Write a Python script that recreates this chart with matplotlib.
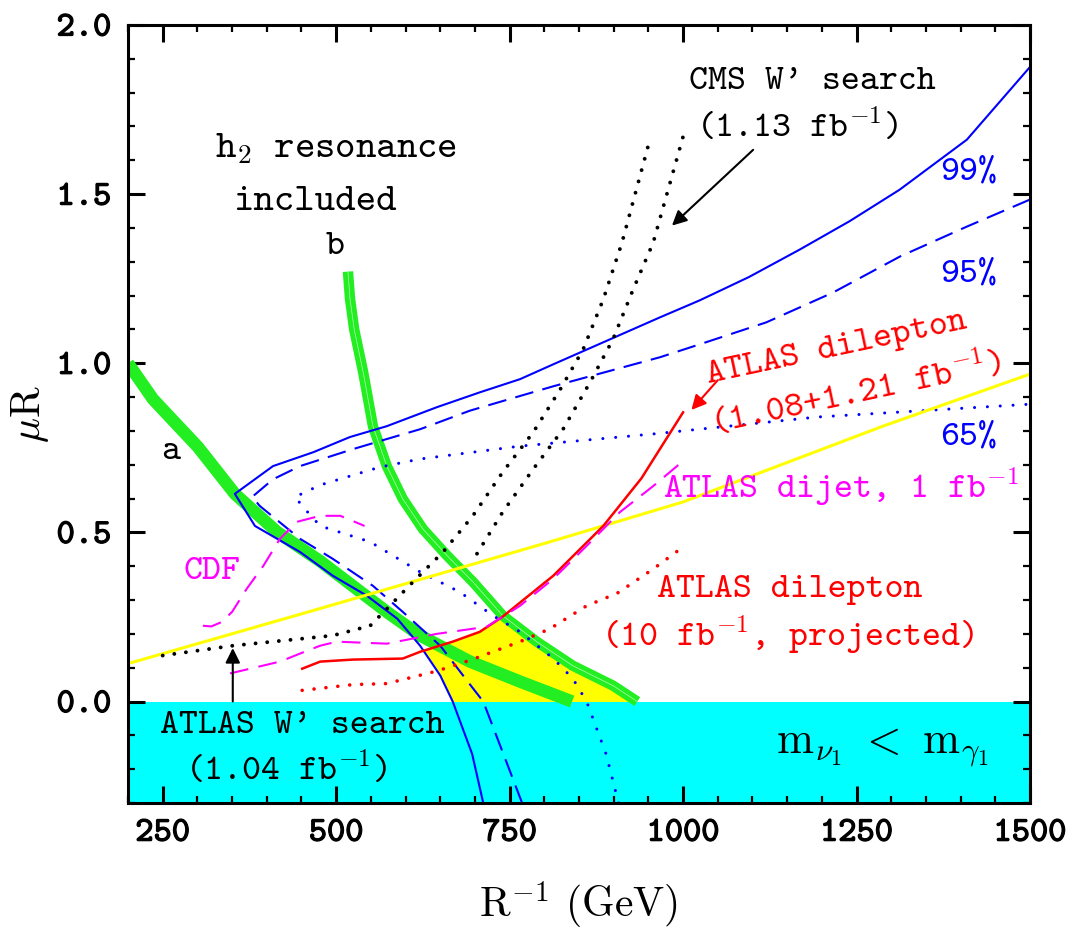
import numpy as np
import matplotlib
matplotlib.use('Agg')
import matplotlib.pyplot as plt
from matplotlib import patheffects as pe
from matplotlib.ticker import MultipleLocator

plt.rcParams['mathtext.fontset'] = 'cm'
plt.rcParams['font.family'] = ['cmtt10', 'DejaVu Sans']
plt.rcParams['axes.unicode_minus'] = False

# ---------------- data ----------------
xticks = [250, 500, 750, 1000, 1250, 1500]
xtick_labels = ['250', '500', '750', '1000', '1250', '1500']
yticks = [0.0, 0.5, 1.0, 1.5, 2.0]
ytick_labels = ['0.0', '0.5', '1.0', '1.5', '2.0']

# green band "a"
a_x = [200, 236, 301, 354, 415, 477, 573, 621, 693, 765, 840]
a_y = [1.0, 0.894, 0.752, 0.614, 0.501, 0.415, 0.265, 0.195, 0.118, 0.059, 0.0]
# green band "b"
b_x = [517, 520, 526, 539, 553, 573, 596, 625, 660, 697, 740, 789, 841, 899, 934]
b_y = [1.271, 1.19, 1.10, 0.973, 0.814, 0.696, 0.599, 0.510, 0.431, 0.354, 0.254, 0.177, 0.106, 0.047, 0.0]

# 99% (solid blue): lower and upper branches
s99_lo_x = [354, 383, 448, 495, 544, 588, 621, 650, 668, 696, 712]
s99_lo_y = [0.614, 0.519, 0.442, 0.372, 0.313, 0.245, 0.165, 0.077, 0.0, -0.155, -0.3]
s99_up_x = [354, 409, 467, 520, 573, 645, 707, 765, 813, 885, 967, 1024, 1095, 1168, 1240, 1312, 1409, 1500]
s99_up_y = [0.614, 0.696, 0.737, 0.782, 0.814, 0.870, 0.914, 0.953, 0.997, 1.062, 1.136, 1.186, 1.255,
            1.336, 1.42, 1.513, 1.661, 1.876]

# 95% (dashed blue)
d95_lo_x = [379, 390, 448, 495, 553, 596, 650, 693, 712, 741, 768]
d95_lo_y = [0.605, 0.578, 0.481, 0.422, 0.342, 0.265, 0.165, 0.05, 0.0, -0.155, -0.3]
d95_up_x = [379, 409, 448, 524, 573, 621, 693, 813, 967, 1024, 1120, 1216, 1313, 1409, 1500]
d95_up_y = [0.605, 0.657, 0.696, 0.746, 0.776, 0.805, 0.86, 0.932, 1.018, 1.056, 1.121, 1.209, 1.316,
            1.404, 1.484]

# 65% (dotted blue)
o65_lo_x = [441, 451, 477, 549, 621, 678, 726, 765, 813, 841, 861, 889, 907]
o65_lo_y = [0.605, 0.578, 0.519, 0.472, 0.383, 0.324, 0.254, 0.206, 0.127, 0.068, 0.0, -0.155, -0.3]
o65_up_x = [441, 477, 563, 621, 765, 957, 1193, 1500]
o65_up_y = [0.605, 0.64, 0.693, 0.717, 0.755, 0.791, 0.841, 0.879]

# yellow line
yel_x = [200, 477, 808, 1000, 1288, 1500]
yel_y = [0.112, 0.275, 0.472, 0.59, 0.814, 0.968]

# ATLAS W' search (black dotted)
atw_x = [250, 351, 495, 549, 573, 611, 654, 697, 740, 784, 823, 856, 885, 912, 950]
atw_y = [0.136, 0.165, 0.195, 0.224, 0.274, 0.354, 0.442, 0.549, 0.678, 0.796, 0.923, 1.041, 1.189,
         1.357, 1.645]
# CMS W' search (black dotted)
cms_x = [703, 740, 784, 827, 866, 899, 928, 957, 1000]
cms_y = [0.437, 0.560, 0.687, 0.805, 0.944, 1.071, 1.218, 1.357, 1.67]

# ATLAS dilepton (red solid)
red_x = [451, 477, 524, 596, 621, 668, 707, 740, 813, 885, 940, 1000]
red_y = [0.097, 0.118, 0.124, 0.127, 0.147, 0.177, 0.206, 0.251, 0.372, 0.519, 0.66, 0.855]
# ATLAS dilepton projected (red dotted)
redp_x = [451, 524, 573, 645, 693, 765, 808, 861, 905, 957, 1000]
redp_y = [0.033, 0.05, 0.053, 0.09, 0.122, 0.177, 0.215, 0.283, 0.32, 0.392, 0.457]

# ATLAS dijet (magenta dashed)
dij_x = [347, 419, 458, 477, 501, 573, 645, 717, 765, 813, 861, 909, 957, 1000]
dij_y = [0.083, 0.118, 0.15, 0.165, 0.177, 0.171, 0.2, 0.221, 0.283, 0.363, 0.46, 0.56, 0.637, 0.711]
# CDF (magenta dashed)
cdf_x = [308, 320, 335, 350, 371, 395, 419, 443, 477, 506, 541]
cdf_y = [0.224, 0.222, 0.235, 0.265, 0.333, 0.401, 0.481, 0.531, 0.549, 0.549, 0.519]

# ---------------- figure ----------------
fig = plt.figure(figsize=(10.77, 9.30), dpi=100)
ax = fig.add_axes([128 / 1077, 127 / 930, 902 / 1077, 778 / 930])
ax.set_xlim(200, 1500)
ax.set_ylim(-0.3, 2.0)

ax.axhspan(-0.3, 0.0, color='#00ffff', lw=0, zorder=0)

# yellow allowed region: below red & b, above 99% lower branch and 0
xg = np.linspace(600, 960, 800)
upper = np.minimum(np.interp(xg, red_x, red_y), np.interp(xg, b_x, b_y))
lower = np.maximum(0.0, np.interp(xg, s99_lo_x, s99_lo_y))
ax.fill_between(xg, lower, upper, where=upper > lower, interpolate=True,
                color='#ffff00', lw=0, zorder=1)

green = '#22ee22'
ax.plot(a_x, a_y, color=green, lw=9, solid_capstyle='butt', solid_joinstyle='round', zorder=2)
ax.plot(b_x, b_y, color=green, lw=7.5, solid_capstyle='butt', solid_joinstyle='round', zorder=2)
ax.plot(b_x, b_y, color='#b8ffb8', lw=0.5, zorder=2)

blue = '#0000ff'
ax.plot(s99_lo_x[::-1] + s99_up_x[1:], s99_lo_y[::-1] + s99_up_y[1:], color=blue, lw=1.5, zorder=3)
ax.plot(d95_lo_x[::-1] + d95_up_x[1:], d95_lo_y[::-1] + d95_up_y[1:], color=blue, lw=1.5,
        linestyle=(0, (9, 4.5)), zorder=3)
ax.plot(o65_lo_x[::-1] + o65_up_x[1:], o65_lo_y[::-1] + o65_up_y[1:], color=blue, lw=2.2,
        linestyle=(0, (0.01, 4.2)), dash_capstyle='round', zorder=3)

ax.plot(yel_x, yel_y, color='#ffff00', lw=2.2, zorder=3)

dot = (0, (0.01, 3.0))
ax.plot(atw_x, atw_y, color='black', lw=2.8, linestyle=dot, dash_capstyle='round', zorder=3)
ax.plot(cms_x, cms_y, color='black', lw=2.8, linestyle=dot, dash_capstyle='round', zorder=3)

ax.plot(red_x, red_y, color='#ff0000', lw=1.8, zorder=3)
ax.plot(redp_x, redp_y, color='#ff0000', lw=2.6, linestyle=(0, (0.01, 3.3)),
        dash_capstyle='round', zorder=3)

mag = '#ff00ff'
ax.plot(dij_x, dij_y, color=mag, lw=1.5, linestyle=(0, (9, 5)), zorder=3)
ax.plot(cdf_x, cdf_y, color=mag, lw=1.5, linestyle=(0, (9, 5)), zorder=3)

# arrows
ap = dict(arrowstyle='-|>', color='black', lw=1.5, mutation_scale=22, shrinkA=0, shrinkB=0)
ax.annotate('', xy=(984, 1.407), xytext=(1101, 1.631), arrowprops=ap, zorder=4)
ax.annotate('', xy=(351, 0.158), xytext=(351, 0.0), arrowprops=ap, zorder=4)
ax.annotate('', xy=(1012, 0.862), xytext=(1050, 0.95),
            arrowprops=dict(arrowstyle='-|>', color='#ff0000', lw=1.5, mutation_scale=22,
                            shrinkA=0, shrinkB=0), zorder=4)

fs = 26
red = '#ff0000'
T = dict(fontsize=fs, ha='center', va='baseline')
ax.text(500, 1.608, r'h$_2$ resonance', fontsize=28, ha='center', va='baseline')
ax.text(470, 1.454, 'included', fontsize=28, ha='center', va='baseline')
ax.text(498, 1.322, 'b', **T)
ax.text(261, 0.717, 'a', **T)
ax.text(1186, 1.811, "CMS W' search", **T)
ax.text(1164, 1.667, r'(1.13 fb$^{-1}$)', **T)
ax.text(1412, 1.543, '99%', color=blue, **T)
ax.text(1412, 1.242, '95%', color=blue, **T)
ax.text(1412, 0.761, '65%', color=blue, **T)
ax.text(1223, 1.024, 'ATLAS dilepton', fontsize=fs, ha='center', va='baseline', color=red,
        rotation=12, rotation_mode='anchor')
ax.text(1252, 0.88, r'(1.08+1.21 fb$^{-1}$)', fontsize=fs, ha='center', va='baseline',
        color=red, rotation=12, rotation_mode='anchor')
ax.text(1228, 0.599, r'ATLAS dijet, 1 fb$^{-1}$', color=mag, **T)
ax.text(1154, 0.31, 'ATLAS dilepton', color=red, **T)
ax.text(1150, 0.162, r'(10 fb$^{-1}$, projected)', color=red, **T)
ax.text(321, 0.363, 'CDF', color=mag, **T)
ax.text(451, -0.094, "ATLAS W' search", **T)
ax.text(428, -0.233, r'(1.04 fb$^{-1}$)', **T)
ax.text(1287, -0.153, r'$\mathrm{m}_{\nu_1}\ <\ \mathrm{m}_{\gamma_1}$', fontsize=32,
        ha='center', va='baseline')

# axes styling
ax.set_xticks(xticks)
ax.set_yticks(yticks)
ax.xaxis.set_minor_locator(MultipleLocator(50))
ax.yaxis.set_minor_locator(MultipleLocator(0.1))
stroke = [pe.withStroke(linewidth=0.9, foreground='black')]
ax.set_xticklabels(xtick_labels, fontsize=25, path_effects=stroke)
ax.set_yticklabels(ytick_labels, fontsize=25, path_effects=stroke)
ax.tick_params(which='both', direction='in', top=True, right=True)
ax.tick_params(which='major', length=12, width=2.2, pad=12)
ax.tick_params(which='minor', length=5, width=1.6)
for s in ax.spines.values():
    s.set_linewidth(2.2)
    s.set_zorder(5)

ax.set_xlabel(r'R$^{-1}$ (GeV)', fontsize=30, family='cmr10', labelpad=22)
ax.set_ylabel(r'$\mu$R', fontsize=30, family='cmr10', labelpad=4)

fig.savefig('out.png', dpi=100)
